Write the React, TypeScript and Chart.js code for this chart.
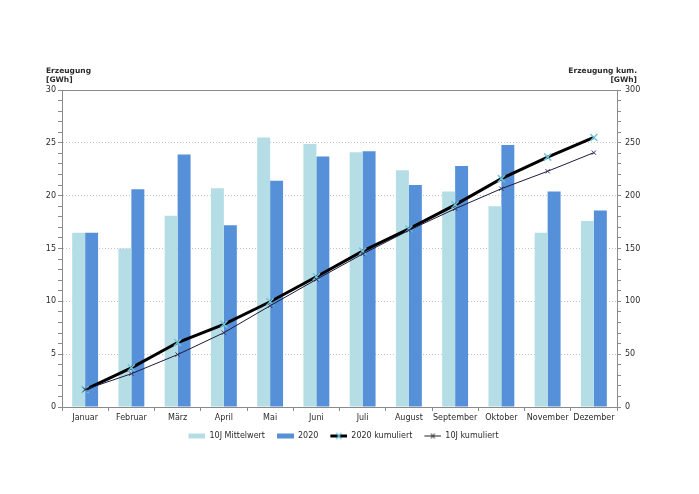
import React, { useEffect, useRef } from "react";
import { Chart, registerables } from "chart.js";

Chart.register(...registerables);

const months = ["Januar", "Februar", "März", "April", "Mai", "Juni", "Juli", "August", "September", "Oktober", "November", "Dezember"];
const mittelwert10J = [16.5, 15.0, 18.1, 20.7, 25.5, 24.9, 24.1, 22.4, 20.4, 19.0, 16.5, 17.6];
const erzeugung2020 = [16.5, 20.6, 23.9, 17.2, 21.4, 23.7, 24.2, 21.0, 22.8, 24.8, 20.4, 18.6];
const kumuliert2020 = [16.5, 37.1, 61.0, 78.2, 99.6, 123.3, 147.5, 168.5, 191.3, 216.1, 236.5, 255.1];
const kumuliert10J = [16.5, 31.5, 49.6, 70.3, 95.8, 120.7, 144.8, 167.2, 187.6, 206.6, 223.1, 240.7];

const seriesNames = ["10J Mittelwert", "2020", "2020 kumuliert", "10J kumuliert"];
const leftTitle = ["Erzeugung", "[GWh]"];
const rightTitle = ["Erzeugung kum.", "[GWh]"];

const FONT = "DejaVu Sans";
const C_LIGHT = "#b5dde6";
const C_BLUE = "#5590d8";
const C_MARK20 = "#6ec3d9";
const C_LINE10 = "#1c1c3c";
const C_MARK10 = "#3a3262";
const C_AXIS = "#8a8a8a";
const C_TEXT = "#2a2a2a";

const ICON_PAD = 4;

function makeIcon(kind: string): HTMLCanvasElement {
  const c = document.createElement("canvas");
  c.width = 17 + ICON_PAD;
  c.height = 9;
  const g = c.getContext("2d")!;
  g.translate(ICON_PAD, 0);
  if (kind === "bar10") {
    g.fillStyle = C_LIGHT;
    g.fillRect(0, 2, 17, 5);
  } else if (kind === "bar20") {
    g.fillStyle = C_BLUE;
    g.fillRect(0, 2, 17, 5);
  } else if (kind === "line20") {
    g.strokeStyle = "#000";
    g.lineWidth = 3;
    g.beginPath();
    g.moveTo(0, 4.5);
    g.lineTo(17, 4.5);
    g.stroke();
    g.strokeStyle = C_MARK20;
    g.lineWidth = 1.2;
    g.beginPath();
    g.moveTo(6, 1.5);
    g.lineTo(11, 7.5);
    g.moveTo(11, 1.5);
    g.lineTo(6, 7.5);
    g.stroke();
  } else {
    g.strokeStyle = "#222";
    g.lineWidth = 1;
    g.beginPath();
    g.moveTo(0, 4.5);
    g.lineTo(17, 4.5);
    g.stroke();
    g.beginPath();
    g.moveTo(6.5, 2);
    g.lineTo(10.5, 7);
    g.moveTo(10.5, 2);
    g.lineTo(6.5, 7);
    g.stroke();
  }
  return c;
}

const titlePlugin = {
  id: "axisTitles",
  afterDraw(chart: any) {
    const { ctx, chartArea } = chart;
    ctx.save();
    ctx.font = `bold 7.5px "${FONT}"`;
    ctx.fillStyle = C_TEXT;
    ctx.textBaseline = "alphabetic";
    ctx.textAlign = "left";
    ctx.fillText(leftTitle[0], chartArea.left - 16, chartArea.top - 17);
    ctx.fillText(leftTitle[1], chartArea.left - 16, chartArea.top - 8);
    ctx.textAlign = "right";
    ctx.fillText(rightTitle[0], chartArea.right + 20, chartArea.top - 17);
    ctx.fillText(rightTitle[1], chartArea.right + 20, chartArea.top - 8);
    ctx.restore();
  },
};

export default function App() {
  const ref = useRef<HTMLCanvasElement | null>(null);

  useEffect(() => {
    if (!ref.current) return;
    const icons = [makeIcon("bar10"), makeIcon("bar20"), makeIcon("line20"), makeIcon("line10")];
    const tickFont = { family: FONT, size: 8 };

    const chart = new Chart(ref.current, {
      type: "bar",
      data: {
        labels: months,
        datasets: [
          {
            type: "bar",
            label: seriesNames[0],
            data: mittelwert10J,
            backgroundColor: C_LIGHT,
            borderWidth: 0,
            yAxisID: "y",
            order: 3,
            categoryPercentage: 0.56,
            barPercentage: 1.0,
          },
          {
            type: "bar",
            label: seriesNames[1],
            data: erzeugung2020,
            backgroundColor: C_BLUE,
            borderWidth: 0,
            yAxisID: "y",
            order: 4,
            categoryPercentage: 0.56,
            barPercentage: 1.0,
          },
          {
            type: "line",
            label: seriesNames[2],
            data: kumuliert2020,
            borderColor: "#000000",
            backgroundColor: "#000000",
            borderWidth: 3,
            pointStyle: "crossRot",
            pointRadius: 5,
            pointBorderColor: C_MARK20,
            pointBorderWidth: 1.5,
            yAxisID: "y1",
            order: 2,
            tension: 0,
          },
          {
            type: "line",
            label: seriesNames[3],
            data: kumuliert10J,
            borderColor: C_LINE10,
            backgroundColor: C_LINE10,
            borderWidth: 1,
            pointStyle: "crossRot",
            pointRadius: 3,
            pointBorderColor: C_MARK10,
            pointBorderWidth: 1,
            yAxisID: "y1",
            order: 1,
            tension: 0,
          },
        ] as any,
      },
      options: {
        animation: false,
        responsive: true,
        maintainAspectRatio: false,
        layout: { padding: { top: 90, left: 0, right: 16, bottom: 44 } },
        plugins: {
          tooltip: { enabled: false },
          legend: {
            position: "bottom",
            labels: {
              font: { family: FONT, size: 8 },
              color: C_TEXT,
              usePointStyle: true,
              pointStyleWidth: 17 + ICON_PAD,
              boxHeight: 8,
              padding: 8,
              sort: (a: any, b: any) => a.datasetIndex - b.datasetIndex,
              generateLabels: (ch: any) => {
                const items = (Chart.defaults.plugins.legend.labels as any).generateLabels(ch);
                return items.map((it: any) => ({ ...it, pointStyle: icons[it.datasetIndex], lineWidth: 0 }));
              },
            },
          },
        },
        scales: {
          x: {
            afterFit: (s: any) => {
              s.height = 17;
            },
            grid: {
              offset: true,
              drawOnChartArea: false,
              drawTicks: true,
              tickLength: 4,
              color: C_AXIS,
              tickColor: C_AXIS,
            },
            border: { color: C_AXIS, width: 1 },
            ticks: { font: tickFont, color: C_TEXT, padding: 2, maxRotation: 0, autoSkip: false },
          },
          y: {
            position: "left",
            min: 0,
            max: 30,
            afterFit: (s: any) => {
              s.width = 62;
            },
            ticks: {
              stepSize: 1,
              maxTicksLimit: 40,
              autoSkip: false,
              font: tickFont,
              color: C_TEXT,
              padding: 2,
              callback: (v: any) => (Number(v) % 5 === 0 ? String(v) : ""),
            },
            grid: {
              drawTicks: true,
              tickLength: 4,
              tickColor: C_AXIS,
              lineWidth: 1,
              color: (c: any) => {
                const v = c.tick ? c.tick.value : -1;
                if (v === 30) return C_AXIS;
                if (v > 0 && v % 5 === 0) return "#c4c4c4";
                return "rgba(0,0,0,0)";
              },
            },
            border: {
              color: C_AXIS,
              width: 1,
              dash: (c: any) => (c.tick && c.tick.value === 30 ? [] : [1, 2]),
            },
          },
          y1: {
            position: "right",
            min: 0,
            max: 300,
            afterFit: (s: any) => {
              s.width = 66;
            },
            ticks: {
              stepSize: 10,
              maxTicksLimit: 40,
              autoSkip: false,
              font: tickFont,
              color: C_TEXT,
              padding: 4,
              callback: (v: any) => (Number(v) % 50 === 0 ? String(v) : ""),
            },
            grid: {
              drawOnChartArea: false,
              drawTicks: true,
              tickLength: 4,
              tickColor: C_AXIS,
              color: C_AXIS,
            },
            border: { color: C_AXIS, width: 1 },
          },
        },
      } as any,
      plugins: [titlePlugin],
    });
    return () => chart.destroy();
  }, []);

  return (
    <div style={{ position: "absolute", left: 0, top: 0, width: 699, height: 494, background: "#fff" }}>
      <canvas ref={ref} />
    </div>
  );
}
